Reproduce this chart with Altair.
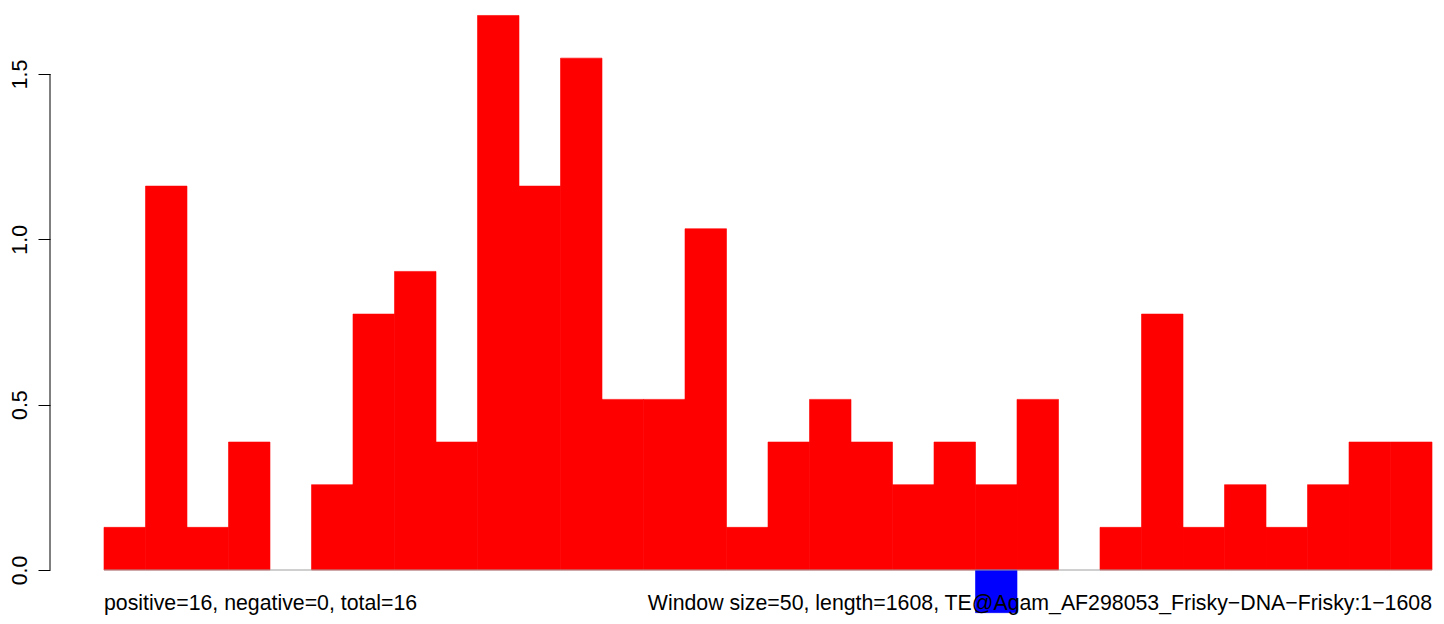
import altair as alt
import pandas as pd

# window index (0-based), one bar per 50-bp window
windows = list(range(32))
positive = [0.129, 1.161, 0.129, 0.387, 0.0, 0.258, 0.774, 0.903, 0.387, 1.677,
            1.161, 1.548, 0.516, 0.516, 1.032, 0.129, 0.387, 0.516, 0.387, 0.258,
            0.387, 0.258, 0.516, 0.0, 0.129, 0.774, 0.129, 0.258, 0.129, 0.258,
            0.387, 0.387]
negative = [0.0] * 21 + [-0.129] + [0.0] * 10
y_ticks = [0.0, 0.5, 1.0, 1.5]
left_note = "positive=16, negative=0, total=16"
right_note = "Window size=50, length=1608, TE@Agam_AF298053_Frisky\u2212DNA\u2212Frisky:1\u22121608"

df = pd.DataFrame({
    "start": windows,
    "end": [w + 1 for w in windows],
    "pos": positive,
    "neg": negative,
})

FONT = "Liberation Sans"
FS = 21.3
xscale = alt.Scale(domain=[-1.301, 32.096], nice=False, zero=False)
yscale = alt.Scale(domain=[-0.1391, 1.6996], nice=False, zero=False)

base = alt.Chart(df)

pos_bars = base.transform_filter("datum.pos > 0").mark_rect(
    color="#ff0000", stroke="#ff0000", strokeWidth=0.6
).encode(
    x=alt.X("start:Q", scale=xscale, axis=None),
    x2="end:Q",
    y=alt.Y("pos:Q", scale=yscale,
            axis=alt.Axis(values=y_ticks, format=".1f", domain=False, grid=False,
                          tickColor="black", tickSize=12, tickWidth=1,
                          labelAngle=270, labelAlign="center", labelBaseline="bottom",
                          labelPadding=8, labelFont=FONT, labelFontSize=FS,
                          labelColor="black", title=None)),
    y2=alt.datum(0),
)

neg_bars = base.transform_filter("datum.neg < 0").mark_rect(
    color="#0000ff", stroke="#0000ff", strokeWidth=0.6
).encode(
    x=alt.X("start:Q", scale=xscale),
    x2="end:Q",
    y=alt.Y("neg:Q", scale=yscale),
    y2=alt.datum(0),
)

baseline = alt.Chart(pd.DataFrame({"a": [0]})).mark_rule(color="#a0a0a0", strokeWidth=1).encode(
    x=alt.datum(0, scale=xscale), x2=alt.datum(32),
    y=alt.datum(0, scale=yscale),
)

yaxis_line = alt.Chart(pd.DataFrame({"a": [0]})).mark_rule(color="black", strokeWidth=1).encode(
    x=alt.value(0),
    y=alt.datum(y_ticks[0], scale=yscale), y2=alt.datum(y_ticks[-1]),
)

notes = pd.DataFrame({
    "x": [0, 32],
    "y": [-0.121, -0.121],
    "label": [left_note, right_note],
})
left_text = alt.Chart(notes.iloc[[0]]).mark_text(
    align="left", baseline="alphabetic", font=FONT, fontSize=FS, color="black"
).encode(x=alt.X("x:Q", scale=xscale), y=alt.Y("y:Q", scale=yscale), text="label:N")
right_text = alt.Chart(notes.iloc[[1]]).mark_text(
    align="right", baseline="alphabetic", font=FONT, fontSize=FS, color="black"
).encode(x=alt.X("x:Q", scale=xscale), y=alt.Y("y:Q", scale=yscale), text="label:N")

chart = alt.layer(pos_bars, neg_bars, baseline, yaxis_line, left_text, right_text).properties(
    width=1386, height=608,
    autosize=alt.AutoSizeParams(type="none"),
    padding={"left": 42, "top": 0, "right": 0, "bottom": 0},
    background="white",
).configure_view(stroke=None)

chart.save("out.html", embed_options={"renderer": "svg", "actions": False})
